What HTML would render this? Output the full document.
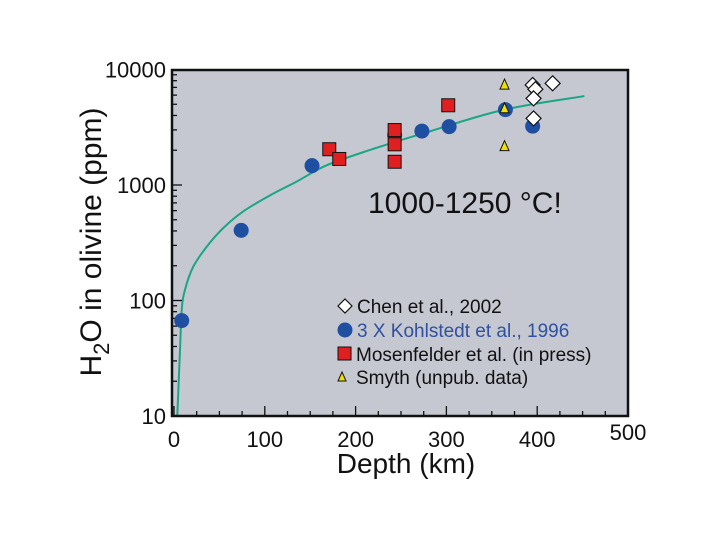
<!DOCTYPE html>
<html><head><meta charset="utf-8"><style>
html,body{margin:0;padding:0;background:#fff;width:720px;height:540px;overflow:hidden}
text{font-family:"Liberation Sans",sans-serif}
</style></head><body>
<svg id="chart" width="720" height="540" xmlns="http://www.w3.org/2000/svg">
<rect x="172" y="70" width="456" height="346" fill="#c5c8d0"/>
<g id="curveG"></g><g id="ticks"></g><g id="marks"></g>
<rect x="172" y="70" width="456" height="346" fill="none" stroke="#111" stroke-width="2.5"/>
<text x="406" y="473" font-size="28" text-anchor="middle" fill="#111">Depth (km)</text>
<text transform="translate(101,242) rotate(-90)" font-size="30" text-anchor="middle" fill="#111">H<tspan font-size="22" dy="8">2</tspan><tspan dy="-8">O in olivine (ppm)</tspan></text>
<text x="368" y="213" font-size="30" fill="#111">1000-1250 °C!</text>
<g>
<path d="M345,299 L352,306 L345,313 L338,306 Z" fill="#fff" stroke="#111" stroke-width="1.2"/>
<text x="357" y="313" font-size="19" fill="#111">Chen et al., 2002</text>
<circle cx="345" cy="330" r="7.5" fill="#1f4fa0"/>
<text x="357" y="337" font-size="19" fill="#3050a0">3 X Kohlstedt et al., 1996</text>
<rect x="338" y="347" width="13" height="13" fill="#e02020" stroke="#111" stroke-width="1"/>
<text x="356" y="361" font-size="19" fill="#111">Mosenfelder et al. (in press)</text>
<path d="M342,372 L346,381 L338,381 Z" fill="#f0e000" stroke="#111" stroke-width="1"/>
<text x="356" y="384" font-size="19" fill="#111">Smyth (unpub. data)</text>
</g>
</svg>
<script>
const xTicks=[0,100,200,300,400,500];
const yTicks=[10,100,1000,10000];
const curveDepth=[3.6,6.6,8.5,12,21,36,54,76,106,135,168,215,274.6,362.7,452];
const curvePpm=[10,37,83,123,195,292,422,589,815,1070,1480,2000,2800,4470,5890];
const kohlDepth=[8.5,74,152,243,273,303,365,395];
const kohlPpm=[67,405,1470,2700,2930,3200,4490,3230];
const mosDepth=[171,182,243,243,243,302];
const mosPpm=[2040,1680,2990,2250,1590,4900];
const smythDepth=[364,364,364];
const smythPpm=[7480,4660,2190];
const chenDepth=[395,398,396,396,417];
const chenPpm=[7350,6750,5620,3770,7590];
const NS="http://www.w3.org/2000/svg";
const X=d=>174+d*0.908;
const Y=v=>416-(Math.log10(v)-1)*115.5;
function mk(tag,attrs,parent){const e=document.createElementNS(NS,tag);for(const k in attrs)e.setAttribute(k,attrs[k]);parent.appendChild(e);return e;}
const svg=document.getElementById('chart');
const tg=document.getElementById('ticks');
for(let d=0;d<=500;d+=25){const major=d%100===0;
 const t=mk('line',{x1:X(d),x2:X(d),y1:416,y2:416-(major?10:5),stroke:'#111','stroke-width':1.3},tg);
 
 }
xTicks.forEach(d=>{const t=mk('text',{x:X(d),y:d===500?440:447,'font-size':22,'text-anchor':'middle',fill:'#111'},svg);t.textContent=d;
 
 });
for(let p=1;p<=3;p++)for(let m=1;m<=9;m++){const v=m*Math.pow(10,p);
 const t=mk('line',{x1:172,x2:172+(m===1?10:5),y1:Y(v),y2:Y(v),stroke:'#111','stroke-width':1.3},tg);
 
 }
yTicks.forEach(v=>{const t=mk('text',{x:166,y:Y(v)+8,'font-size':22,'text-anchor':'end',fill:'#111'},svg);t.textContent=v;
 
 });
const pts=curveDepth.map((d,i)=>[X(d),Y(curvePpm[i])]);
let dstr='M'+pts[0][0]+','+pts[0][1];
for(let i=0;i<pts.length-1;i++){const p0=pts[Math.max(0,i-1)],p1=pts[i],p2=pts[i+1],p3=pts[Math.min(pts.length-1,i+2)];
 dstr+=` C${p1[0]+(p2[0]-p0[0])/6},${p1[1]+(p2[1]-p0[1])/6} ${p2[0]-(p3[0]-p1[0])/6},${p2[1]-(p3[1]-p1[1])/6} ${p2[0]},${p2[1]}`;}
const cv=mk('path',{d:dstr,fill:'none',stroke:'#1aa585','stroke-width':2},document.getElementById('curveG'));


const mg=document.getElementById('marks');
kohlDepth.forEach((d,i)=>{const c=mk('circle',{cx:X(d),cy:Y(kohlPpm[i]),r:7.5,fill:'#1f4fa0'},mg);
 
 });
mosDepth.forEach((d,i)=>{const x=X(d),y=Y(mosPpm[i]);const r=mk('rect',{x:x-6.5,y:y-6.5,width:13,height:13,fill:'#e02020',stroke:'#111','stroke-width':1},mg);
 
 });
smythDepth.forEach((d,i)=>{const x=X(d),y=Y(smythPpm[i]);const p=mk('path',{d:`M${x},${y-5} L${x+4.5},${y+5} L${x-4.5},${y+5} Z`,fill:'#f0e000',stroke:'#111','stroke-width':1},mg);
 
 });
chenDepth.forEach((d,i)=>{const x=X(d),y=Y(chenPpm[i]);const p=mk('path',{d:`M${x},${y-7.5} L${x+7.5},${y} L${x},${y+7.5} L${x-7.5},${y} Z`,fill:'#fff',stroke:'#111','stroke-width':1.2},mg);
 
 });
</script>
</body></html>
